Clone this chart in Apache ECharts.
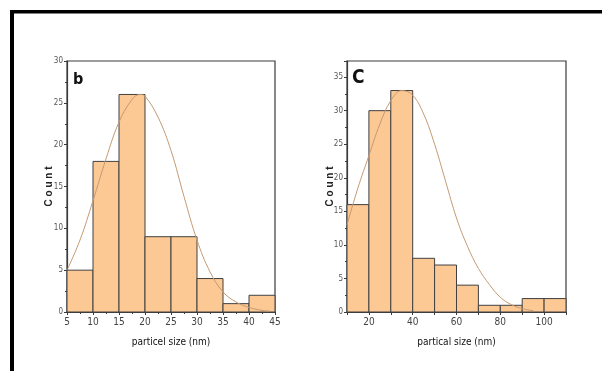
<!DOCTYPE html>
<html>
<head>
<meta charset="utf-8">
<script src="https://cdn.jsdelivr.net/npm/echarts@6/dist/echarts.min.js"></script>
<style>
html,body{margin:0;padding:0;background:#fff;}
#c{width:602px;height:371px;}
</style>
</head>
<body>
<div id="c"></div>
<script>
// Panel b
var binEdgesB = [5, 10, 15, 20, 25, 30, 35, 40, 45];
var countsB = [5, 18, 26, 9, 9, 4, 1, 2];
var curveXB = [5, 7.5, 10, 12.5, 15, 17.5, 19, 20, 22.5, 25, 27.5, 30, 32.5, 35, 37.5, 40, 42.5, 44];
var curveYB = [5.0, 8.6, 13.3, 18.3, 22.7, 25.4, 26.0, 25.8, 23.3, 19.3, 13.8, 8.6, 4.8, 2.4, 1.2, 0.55, 0.2, 0.1];
// Panel C
var binEdgesC = [10, 20, 30, 40, 50, 60, 70, 80, 90, 100, 110];
var countsC = [16, 30, 33, 8, 7, 4, 1, 1, 2, 2];
var curveXC = [10, 15, 20, 25, 30, 35, 40, 45, 50, 55, 60, 65, 70, 75, 80, 85, 90, 95];
var curveYC = [13.0, 18.5, 23.3, 28.0, 31.5, 33.0, 32.3, 29.5, 25.0, 19.5, 14.0, 9.8, 6.5, 4.1, 2.2, 1.1, 0.5, 0.2];
var yTicksB = [0, 30, 5];
var yTicksC = [0, 37.4, 5];
var xNameB = 'particel size (nm)';
var xNameC = 'partical size (nm)';
var yName = 'C o u n t';

function bins(edges, counts) {
  return counts.map(function (c, i) { return [edges[i], edges[i + 1], c]; });
}
function pts(xs, ys) { return xs.map(function (x, i) { return [x, ys[i]]; }); }

var NARROW = "'Liberation Sans Narrow','DejaVu Sans Condensed','Arial Narrow',sans-serif";
var axisCol = '#3a3a3a';

function renderBar(params, api) {
  var p0 = api.coord([api.value(0), 0]);
  var p1 = api.coord([api.value(1), api.value(2)]);
  return {
    type: 'rect',
    shape: { x: p0[0], y: p1[1], width: p1[0] - p0[0], height: p0[1] - p1[1] },
    style: { fill: '#fcc894', stroke: '#404040', lineWidth: 1 }
  };
}

function xAxis(idx, min, max, interval, name, fmt, minorSplit) {
  return {
    type: 'value', gridIndex: idx, min: min, max: max, interval: interval,
    name: name, nameLocation: 'middle', nameGap: 25,
    nameTextStyle: { fontFamily: NARROW, fontSize: 10, color: '#111', fontWeight: 'normal' },
    axisLine: { show: true, lineStyle: { color: axisCol, width: 1.2 } },
    axisTick: { show: true, inside: false, length: 3, lineStyle: { color: axisCol } },
    minorTick: { show: minorSplit > 1, splitNumber: minorSplit, length: 2, lineStyle: { color: axisCol } },
    splitLine: { show: false },
    axisLabel: { fontFamily: NARROW, fontSize: 10, color: '#444', margin: 5, formatter: fmt }
  };
}
function yAxis(idx, t, gap) {
  return {
    type: 'value', gridIndex: idx, min: t[0], max: t[1], interval: t[2],
    name: yName, nameLocation: 'middle', nameGap: gap, nameRotate: 90, nameMoveOverlap: false,
    nameTextStyle: { fontFamily: "'Liberation Sans','Arial',sans-serif", fontSize: 10, fontWeight: 'bold', color: '#222' },
    axisLine: { show: true, lineStyle: { color: axisCol, width: 1.2 } },
    axisTick: { show: true, inside: false, length: 3, lineStyle: { color: axisCol } },
    minorTick: { show: true, splitNumber: 2, length: 2, lineStyle: { color: axisCol } },
    splitLine: { show: false },
    axisLabel: { fontFamily: NARROW, fontSize: 8, color: '#555', margin: 4, showMaxLabel: t[1] % t[2] === 0 }
  };
}

var chart = echarts.init(document.getElementById('c'), null, { renderer: 'canvas' });
chart.setOption({
  animation: false,
  backgroundColor: '#fff',
  grid: [
    { left: 67, top: 61, width: 208, height: 251, show: true, borderColor: axisCol, borderWidth: 1.2, backgroundColor: 'transparent' },
    { left: 347, top: 61, width: 219, height: 251, show: true, borderColor: axisCol, borderWidth: 1.2, backgroundColor: 'transparent' }
  ],
  xAxis: [
    xAxis(0, 5, 45, 5, xNameB, null, 2),
    xAxis(1, 10, 110, 10, xNameC, function (v) { return v % 20 === 0 ? String(v) : ''; }, 1)
  ],
  yAxis: [yAxis(0, yTicksB, 13), yAxis(1, yTicksC, 12)],
  series: [
    { type: 'custom', xAxisIndex: 0, yAxisIndex: 0, renderItem: renderBar, data: bins(binEdgesB, countsB), z: 2 },
    { type: 'line', xAxisIndex: 0, yAxisIndex: 0, data: pts(curveXB, curveYB), smooth: 0.4, showSymbol: false, symbol: 'none',
      lineStyle: { color: '#c49a72', width: 1 }, z: 3 },
    { type: 'custom', xAxisIndex: 1, yAxisIndex: 1, renderItem: renderBar, data: bins(binEdgesC, countsC), z: 2 },
    { type: 'line', xAxisIndex: 1, yAxisIndex: 1, data: pts(curveXC, curveYC), smooth: 0.4, showSymbol: false, symbol: 'none',
      lineStyle: { color: '#c49a72', width: 1 }, z: 3 }
  ],
  graphic: [
    { type: 'rect', shape: { x: 10, y: 10, width: 592, height: 3.5 }, style: { fill: '#000' } },
    { type: 'rect', shape: { x: 10, y: 10, width: 4, height: 361 }, style: { fill: '#000' } },
    { type: 'text', left: 73, top: 72, style: { text: 'b', font: "bold 16px " + NARROW, fill: '#111' } },
    { type: 'text', left: 352, top: 69, style: { text: 'C', font: "bold 19px " + NARROW, fill: '#111' } }
  ]
});
</script>
</body>
</html>
